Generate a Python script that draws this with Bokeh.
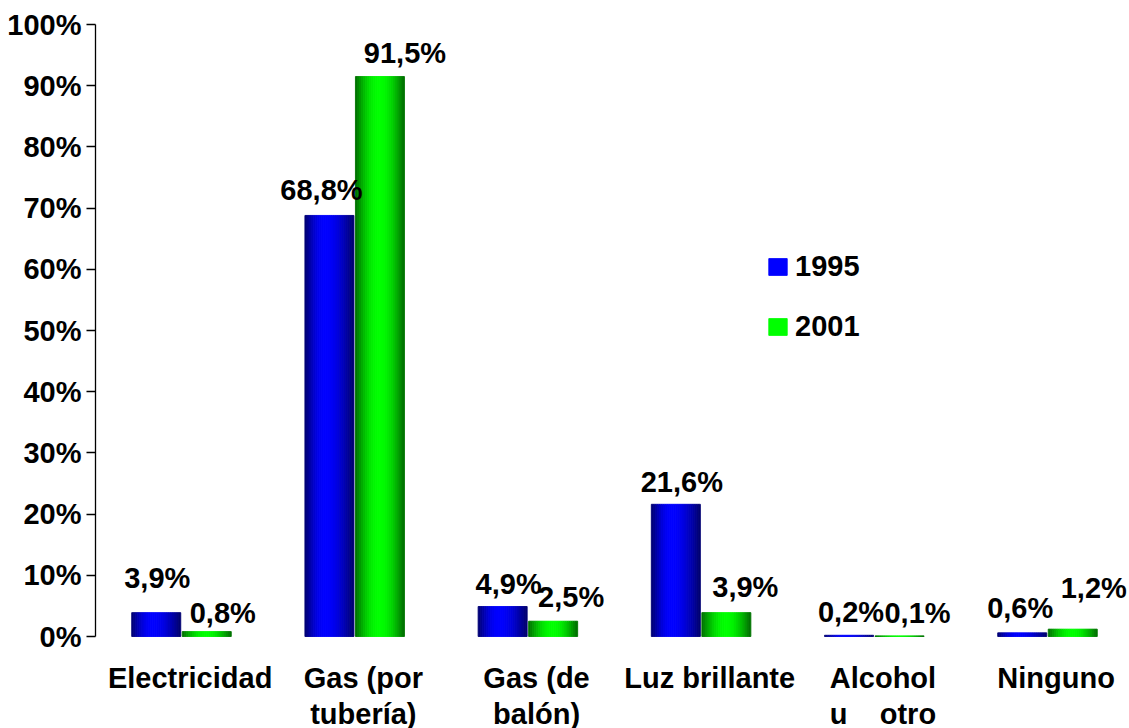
import math
from bokeh.plotting import figure
from bokeh.models import (ColumnDataSource, Range1d, FixedTicker, Legend, LegendItem)
from bokeh.core.properties import value
from bokeh.embed import file_html
from bokeh.resources import INLINE

# ---------------- data ----------------
categories = ["Electricidad", "Gas (por\ntubería)", "Gas (de\nbalón)", "Luz brillante",
              "Alcohol\nu\u00a0\u00a0\u00a0\u00a0otro", "Ninguno"]
series_names = ["1995", "2001"]
values_1995 = [3.9, 68.8, 4.9, 21.6, 0.2, 0.6]
values_2001 = [0.8, 91.5, 2.5, 3.9, 0.1, 1.2]
labels_1995 = ["3,9%", "68,8%", "4,9%", "21,6%", "0,2%", "0,6%"]
labels_2001 = ["0,8%", "91,5%", "2,5%", "3,9%", "0,1%", "1,2%"]
y_ticks = list(range(0, 101, 10))
y_tick_labels = [f"{t}%" for t in y_ticks]

# data-label nudges in screen pixels (style)
dx_1995 = [1, -8, 6, 6, 2, -2]
dy_1995 = [-35, -25, -23, -22, -23, -25]
dx_2001 = [16, 25, 18, 19, 18, 21]
dy_2001 = [-19, -24, -24, -26, -23, -41]

FONT = value("Liberation Sans")
FS = "29px"

W, H = 1129, 728
BL, BT = 95, 24
axis_h_px = 612            # pixel height of the 0..100 value axis
below_px = H - BT - axis_h_px   # room under zero for the category labels (inside frame)
px_per_unit = axis_h_px / 100.0

p = figure(width=W, height=H, output_backend="svg", toolbar_location=None,
           x_range=Range1d(-0.4965, 5.4735),
           y_range=Range1d(-below_px / px_per_unit, 100),
           min_border_left=BL, min_border_right=0, min_border_top=BT, min_border_bottom=0)
p.outline_line_color = None
p.xgrid.grid_line_color = None
p.ygrid.grid_line_color = None
p.background_fill_color = "white"
p.border_fill_color = "white"
p.xaxis.visible = False

# gradient bars built from narrow stripes
N = 24
bar_w = 0.283
half_gap = 0.0043


def shade(t, peak):
    s = t / peak if t < peak else (1 - t) / (1 - peak)
    return 0.42 + 0.58 * math.sin(max(0.0, min(1.0, s)) * math.pi / 2)


def stripes(vals, center_off, peak, rgb):
    xs, tops, cols = [], [], []
    sw = bar_w / N
    for i, v in enumerate(vals):
        left = i + center_off - bar_w / 2
        for k in range(N):
            t = (k + 0.5) / N
            b = shade(t, peak)
            c = tuple(int(round(255 * b * ch)) for ch in rgb)
            xs.append(left + (k + 0.5) * sw)
            tops.append(v)
            cols.append("#%02x%02x%02x" % c)
    return ColumnDataSource(dict(x=xs, top=tops, color=cols)), sw


off_b = -(half_gap + bar_w / 2)
off_g = +(half_gap + bar_w / 2)
src_b, sw = stripes(values_1995, off_b, 0.42, (0, 0, 1))
src_g, _ = stripes(values_2001, off_g, 0.5, (0, 1, 0))

rb = p.vbar(x="x", top="top", bottom=0, width=sw, source=src_b,
            fill_color="color", line_color="color", line_width=0.9)
rg = p.vbar(x="x", top="top", bottom=0, width=sw, source=src_g,
            fill_color="color", line_color="color", line_width=0.9)

# value labels
lab_b = ColumnDataSource(dict(x=[i + off_b for i in range(len(values_1995))], y=values_1995,
                              t=labels_1995, dx=dx_1995, dy=dy_1995))
lab_g = ColumnDataSource(dict(x=[i + off_g for i in range(len(values_2001))], y=values_2001,
                              t=labels_2001, dx=dx_2001, dy=dy_2001))
for src in (lab_b, lab_g):
    p.text(x="x", y="y", text="t", x_offset="dx", y_offset="dy", source=src,
           text_font=FONT, text_font_style="bold", text_font_size=FS,
           text_align="center", text_baseline="middle", text_color="black")

# category labels under the zero line
cat_src = ColumnDataSource(dict(x=[i + 0.05 for i in range(len(categories))],
                                y=[0] * len(categories), t=categories))
p.text(x="x", y="y", text="t", source=cat_src, y_offset=25,
       text_font=FONT, text_font_style="bold", text_font_size=FS,
       text_align="center", text_baseline="top", text_line_height=1.15,
       text_color="black")

# y axis
ya = p.yaxis[0]
ya.bounds = (0, 100)
ya.ticker = FixedTicker(ticks=y_ticks)
ya.major_label_overrides = {t: l for t, l in zip(y_ticks, y_tick_labels)}
ya.minor_tick_line_color = None
ya.major_tick_in = 0
ya.major_tick_out = 9
ya.major_label_standoff = 5
ya.axis_line_color = "black"
ya.axis_line_width = 1.3
ya.major_tick_line_color = "black"
ya.major_tick_line_width = 1.3
ya.major_label_text_font = "Liberation Sans"
ya.major_label_text_font_style = "bold"
ya.major_label_text_font_size = FS
ya.major_label_text_color = "black"

# legend
legend = Legend(items=[LegendItem(label=series_names[0], renderers=[rb], index=10),
                       LegendItem(label=series_names[1], renderers=[rg], index=12)],
                location=(671, 293 + below_px), orientation="vertical",
                glyph_width=23, glyph_height=21, label_height=18, spacing=27,
                label_standoff=6, padding=0, margin=0,
                border_line_color=None, background_fill_alpha=0,
                label_text_font="Liberation Sans", label_text_font_style="bold",
                label_text_font_size=FS, label_text_color="black")
p.add_layout(legend, "center")

open("out.html", "w").write(file_html(p, INLINE))
